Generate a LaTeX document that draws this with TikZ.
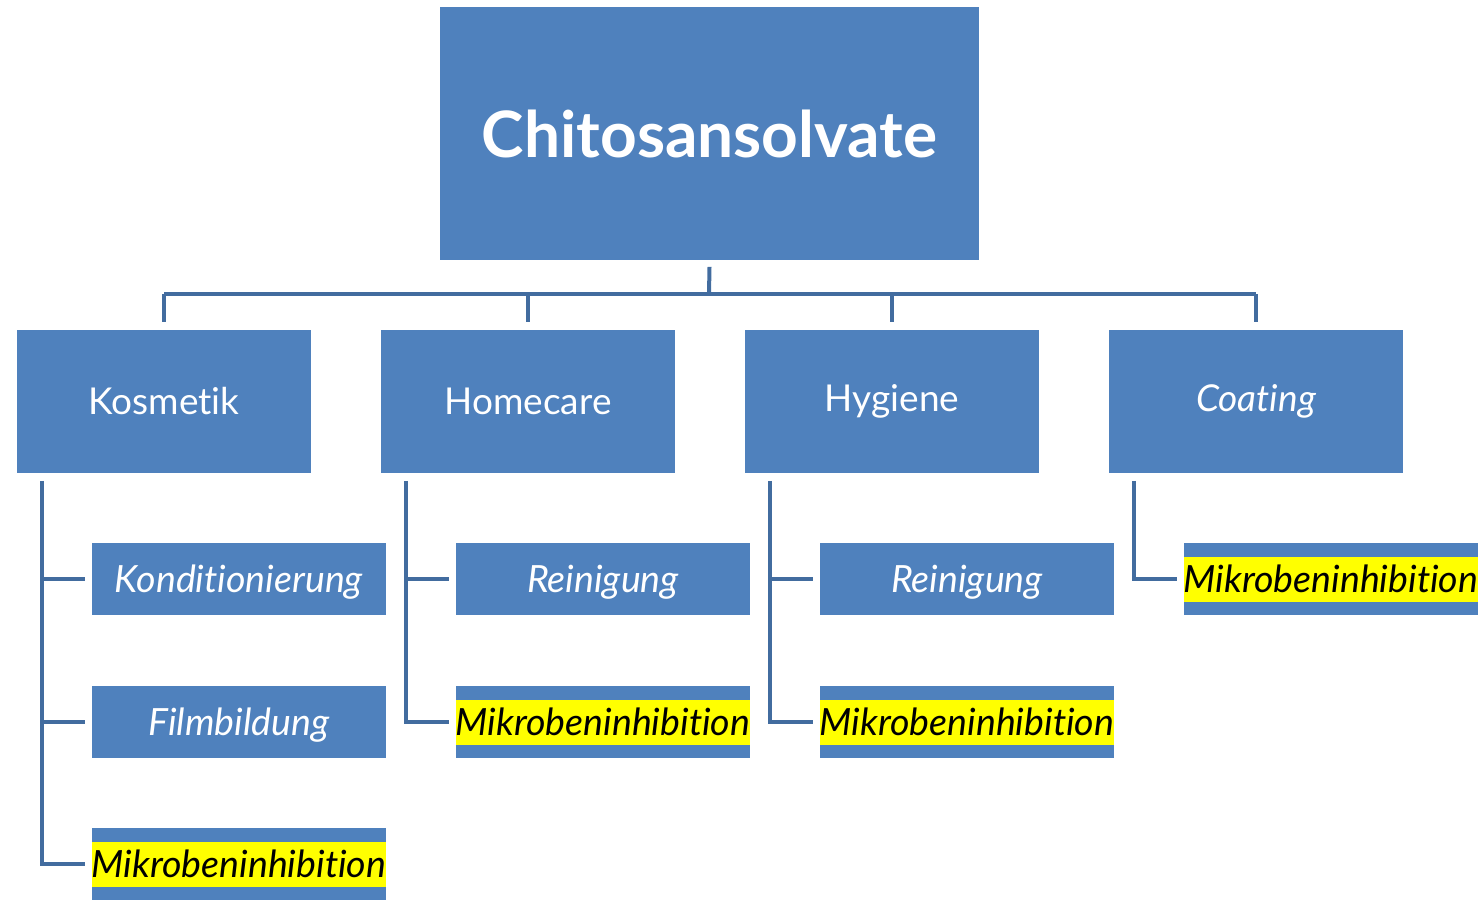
\documentclass[tikz,border=0pt]{standalone}
\usepackage{fontspec}
\setmainfont{Lato}[RawFeature={-liga;-clig;-dlig}]
\usetikzlibrary{calc}
\definecolor{boxblue}{HTML}{4F81BD}
\definecolor{lineblue}{HTML}{426C9F}
\definecolor{hl}{HTML}{FFFF00}
\tikzset{
  x=1pt,y=-1pt,
  topbox/.style={fill=boxblue,draw=white,line width=0.8pt,text=white,minimum width=540pt,minimum height=254pt,inner sep=0pt,font=\fontsize{64}{70}\selectfont\bfseries},
  midbox/.style={fill=boxblue,draw=white,line width=0.8pt,text=white,minimum width=295pt,minimum height=144pt,inner sep=0pt,font=\fontsize{37}{42}\selectfont},
  subbox/.style={fill=boxblue,draw=white,line width=0.8pt,text=white,minimum width=295pt,minimum height=73pt,inner sep=0pt,text height=30pt,text depth=4pt,font=\fontsize{37.5}{42}\selectfont\itshape},
  hlbox/.style={fill=boxblue,draw=white,line width=0.8pt,minimum width=295pt,minimum height=73pt,inner sep=0pt},
  hltext/.style={fill=hl,text=black,minimum width=293pt,minimum height=45pt,inner sep=0pt,text height=30pt,text depth=4pt,font=\fontsize{37.5}{42}\selectfont\itshape},
  conn/.style={draw=lineblue,line width=4pt},
}
\begin{document}
\begin{tikzpicture}
\useasboundingbox (0,0) rectangle (1483,900);
\node[topbox] (top) at (709.5,133.5) {Chitosansolvate};
\node[midbox] (k) at (164,401.5) {Kosmetik};
\node[midbox] (h) at (528,401.5) {Homecare};
\node[midbox] (y) at (892,401.5) {Hygiene};
\node[midbox] (c) at (1256,401.5) {\itshape Coating};
% sub boxes
\node[subbox] (k1) at (239,579) {Konditionierung};
\node[subbox] (k2) at (239,722) {Filmbildung};
\node[hlbox] (k3) at (239,864) {};
\node[hltext] (k3t) at (k3.center) {Mikrobeninhibition};
\node[subbox] (h1) at (603,579) {Reinigung};
\node[hlbox] (h2) at (603,722) {};
\node[hltext] (h2t) at (h2.center) {Mikrobeninhibition};
\node[subbox] (y1) at (967,579) {Reinigung};
\node[hlbox] (y2) at (967,722) {};
\node[hltext] (y2t) at (y2.center) {Mikrobeninhibition};
\node[hlbox] (c1) at (1331,579) {};
\node[hltext] (c1t) at (c1.center) {Mikrobeninhibition};
% top connectors
\coordinate (bus) at (709,294);
\draw[conn] ([yshift=-6pt]top.south) -- (bus);
\draw[conn] (bus -| k.north) -- (bus -| c.north);
\foreach \n in {k,h,y,c}{
  \draw[conn] (bus -| \n.north) -- ([yshift=7pt]\n.north);
}
% side connectors
\foreach \n in {k,h,y,c}{
  \coordinate (\n l) at ([xshift=26pt,yshift=-7pt]\n.south west);
}
\draw[conn] (kl) |- ([xshift=-6pt]k3.west);
\draw[conn] (kl |- k1.west) -- ([xshift=-6pt]k1.west);
\draw[conn] (kl |- k2.west) -- ([xshift=-6pt]k2.west);
\draw[conn] (hl) |- ([xshift=-6pt]h2.west);
\draw[conn] (hl |- h1.west) -- ([xshift=-6pt]h1.west);
\draw[conn] (yl) |- ([xshift=-6pt]y2.west);
\draw[conn] (yl |- y1.west) -- ([xshift=-6pt]y1.west);
\draw[conn] (cl) |- ([xshift=-6pt]c1.west);
\end{tikzpicture}
\end{document}
